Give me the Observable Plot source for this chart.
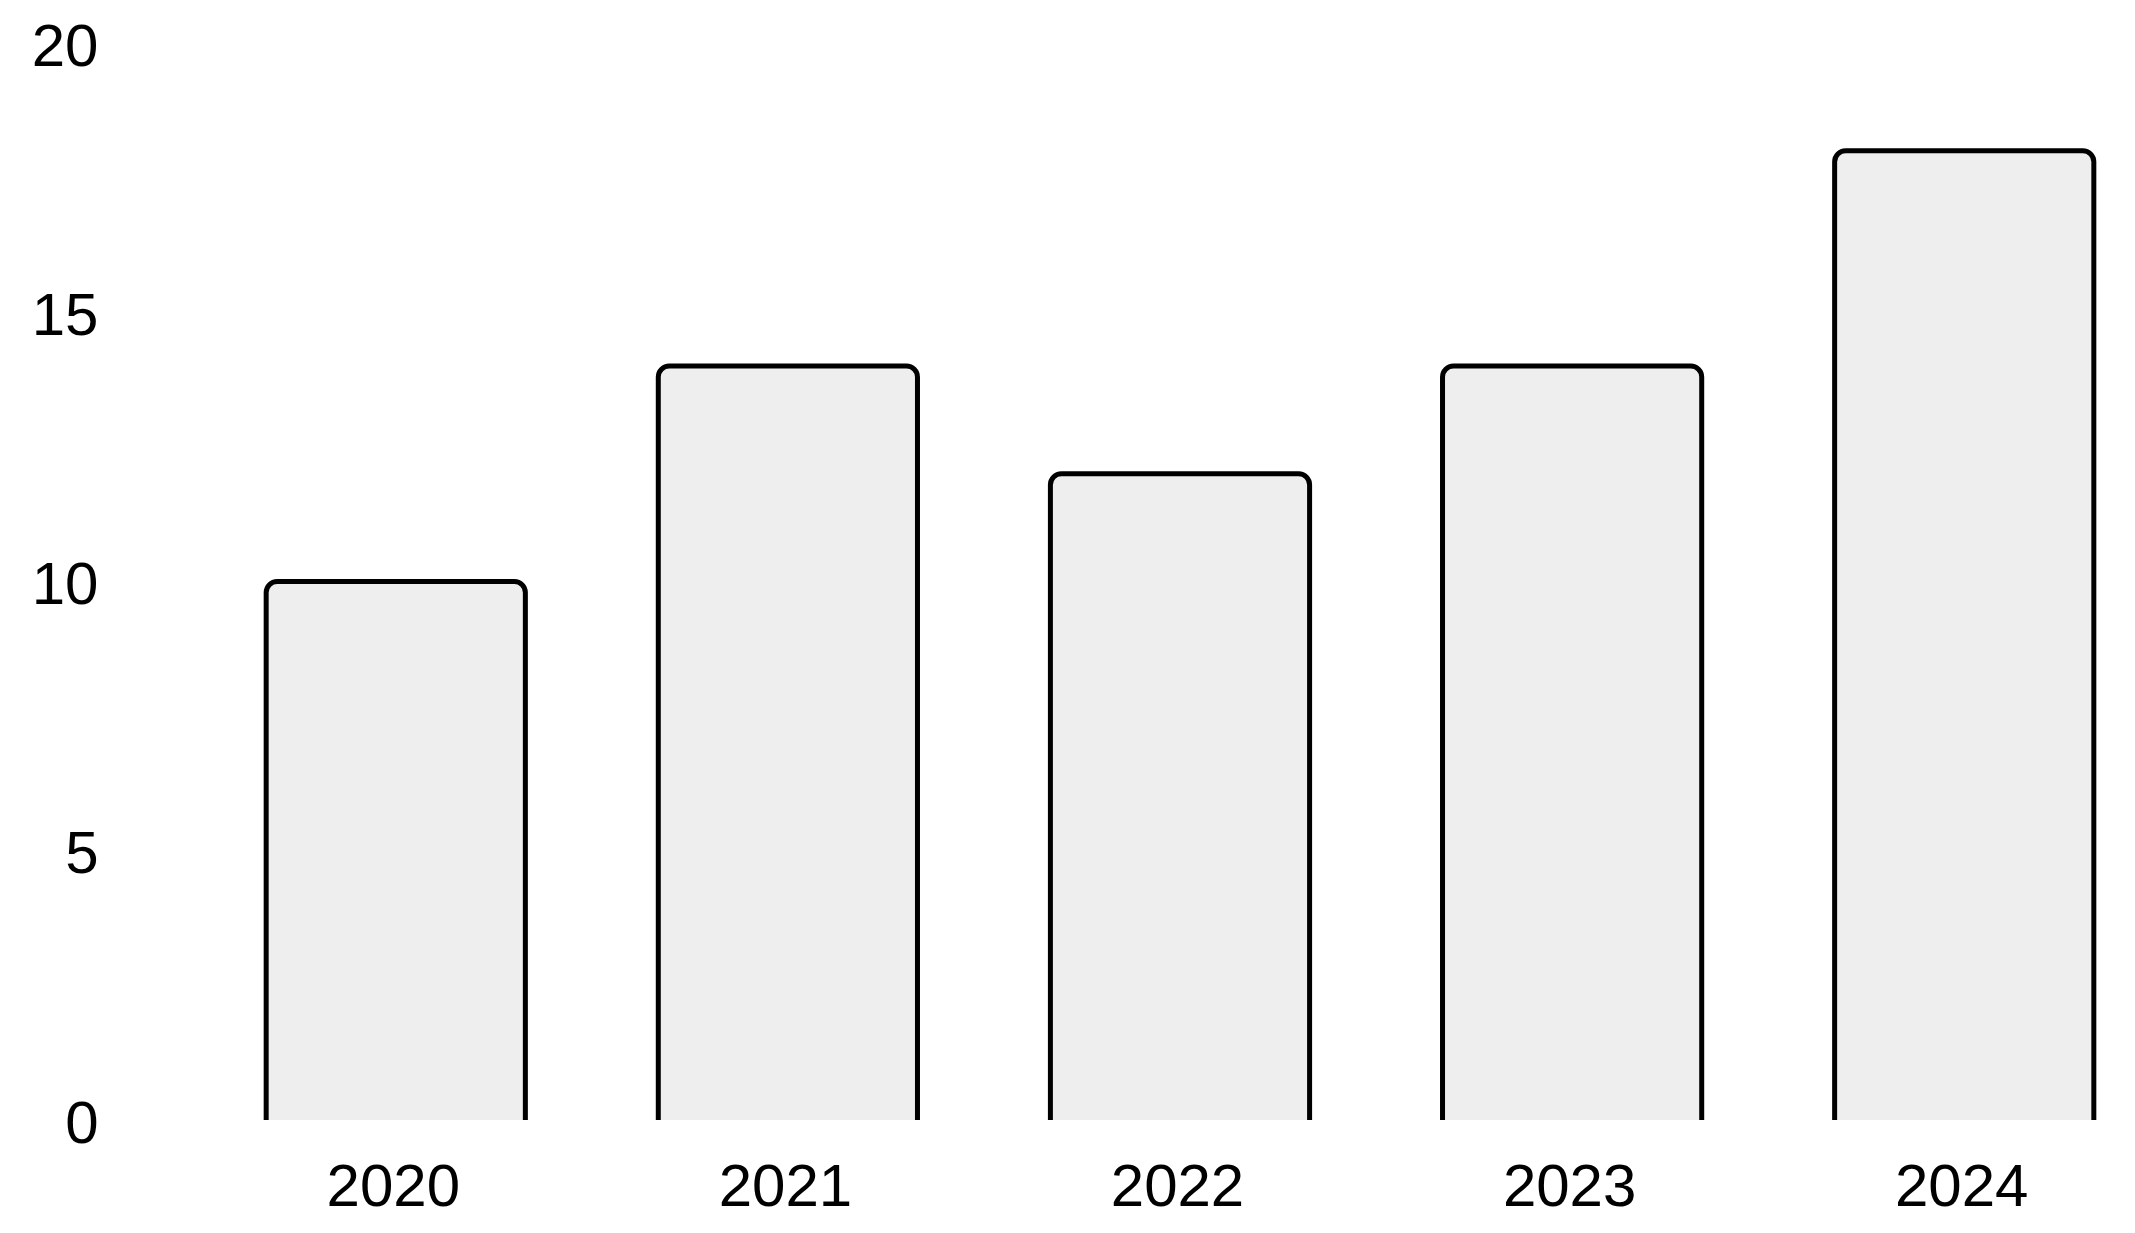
<!DOCTYPE html>
<html>
<head>
<meta charset="utf-8">
<script src="https://cdn.jsdelivr.net/npm/d3@7"></script>
<script src="https://cdn.jsdelivr.net/npm/@observablehq/plot@0.6"></script>
<style>
  html, body { margin: 0; padding: 0; background: #fff; }
</style>
</head>
<body>
<div id="chart"></div>
<script>
const years = ["2020", "2021", "2022", "2023", "2024"];
const values = [10, 14, 12, 14, 18];
const yTicks = [0, 5, 10, 15, 20];

const data = years.map((year, i) => ({year, value: values[i]}));

const chart = Plot.plot({
  width: 2135,
  height: 1233,
  marginLeft: 225,
  marginRight: 0,
  marginTop: 43,
  marginBottom: 113,
  style: {fontFamily: "'Liberation Sans', Arial, sans-serif", fontSize: "60px", color: "#000", background: "#fff"},
  x: {domain: years, paddingInner: 0.339, paddingOuter: 0.105, round: false, label: null},
  y: {domain: [0, 20], label: null},
  marks: [
    Plot.barY(data, {x: "year", y: "value", fill: "#eeeeee", stroke: "#000", strokeWidth: 5, rx: 11, insetBottom: -20, clip: true}),
    Plot.axisY({ticks: yTicks, tickSize: 0, tickPadding: 127, dy: 3, label: null, fontSize: 60}),
    Plot.axisX({tickSize: 0, tickPadding: 43, dx: -3, label: null, fontSize: 60})
  ]
});
document.getElementById("chart").appendChild(chart);
</script>
</body>
</html>
